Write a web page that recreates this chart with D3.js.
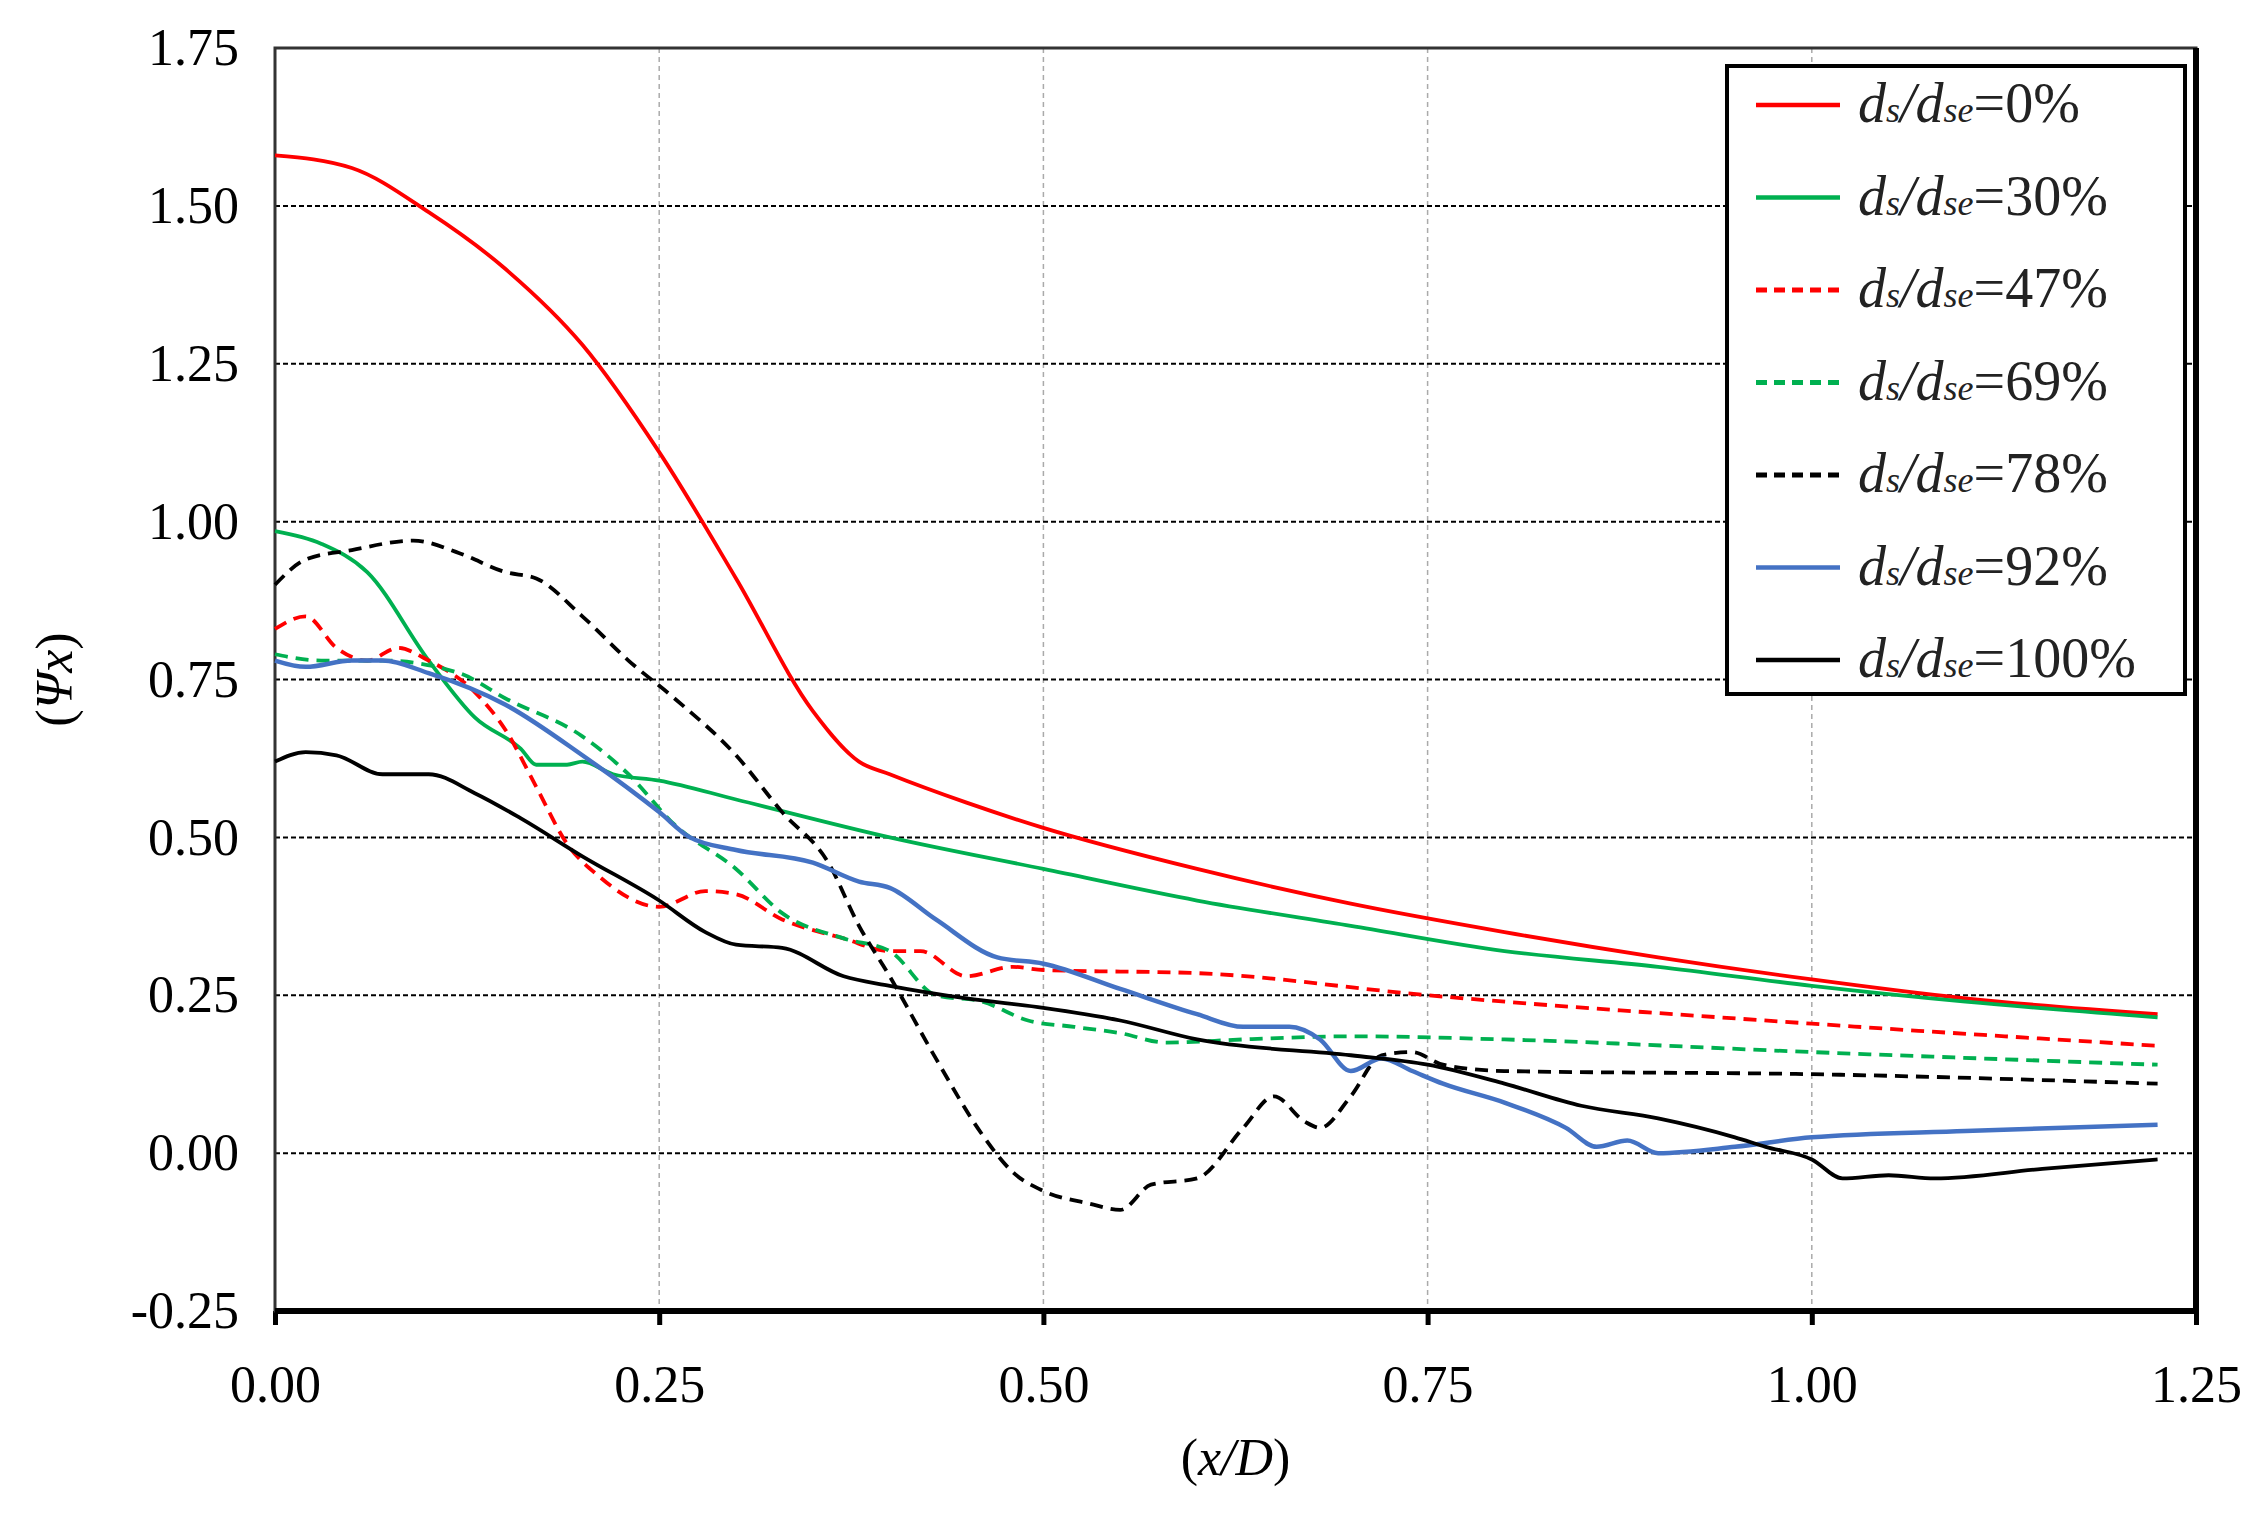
<!DOCTYPE html>
<html><head><meta charset="utf-8">
<script src="https://cdn.jsdelivr.net/npm/d3@7"></script>
<style>body{margin:0;background:#fff}</style></head>
<body><svg id="c" width="2265" height="1519"></svg>
<script>
const xTicks=[0,0.25,0.5,0.75,1.0,1.25];
const yTicks=[-0.25,0,0.25,0.5,0.75,1.0,1.25,1.5,1.75];
const labels=["0%","30%","47%","69%","78%","92%","100%"];
const colors=["#ff0000","#00b050","#ff0000","#00b050","#000000","#4472c4","#000000"];
const dashed=[false,false,true,true,true,false,false];
const s0=[[0,1.58],[0.05,1.56],[0.1,1.49],[0.15,1.40],[0.2,1.28],[0.25,1.11],[0.3,0.91],[0.35,0.70],[0.38,0.62],[0.4,0.60],[0.45,0.555],[0.5,0.515],[0.6,0.45],[0.7,0.395],[0.8,0.35],[0.9,0.31],[1.0,0.275],[1.1,0.245],[1.225,0.22]];
const s30=[[0,0.985],[0.03,0.965],[0.06,0.92],[0.1,0.78],[0.13,0.69],[0.16,0.64],[0.17,0.615],[0.19,0.615],[0.2,0.62],[0.22,0.60],[0.25,0.59],[0.3,0.56],[0.4,0.50],[0.5,0.45],[0.6,0.40],[0.7,0.36],[0.8,0.32],[0.9,0.295],[1.0,0.265],[1.1,0.24],[1.225,0.215]];
const s47=[[0,0.83],[0.02,0.85],[0.04,0.80],[0.06,0.78],[0.08,0.80],[0.1,0.78],[0.13,0.73],[0.15,0.67],[0.17,0.58],[0.19,0.49],[0.21,0.44],[0.25,0.39],[0.28,0.415],[0.30,0.41],[0.33,0.37],[0.37,0.34],[0.40,0.32],[0.42,0.32],[0.45,0.28],[0.48,0.295],[0.5,0.29],[0.6,0.285],[0.75,0.25],[1.0,0.205],[1.225,0.17]];
const s69=[[0,0.79],[0.03,0.78],[0.07,0.78],[0.12,0.76],[0.15,0.72],[0.2,0.66],[0.23,0.60],[0.26,0.52],[0.3,0.45],[0.33,0.38],[0.37,0.34],[0.40,0.32],[0.43,0.25],[0.46,0.24],[0.49,0.21],[0.52,0.20],[0.55,0.19],[0.58,0.175],[0.63,0.18],[0.7,0.185],[0.8,0.18],[1.0,0.16],[1.225,0.14]];
const s78=[[0,0.90],[0.02,0.94],[0.05,0.955],[0.09,0.97],[0.12,0.95],[0.15,0.92],[0.17,0.91],[0.2,0.85],[0.23,0.78],[0.26,0.72],[0.3,0.63],[0.33,0.54],[0.36,0.46],[0.38,0.36],[0.40,0.28],[0.43,0.15],[0.46,0.03],[0.48,-0.03],[0.5,-0.06],[0.53,-0.08],[0.55,-0.09],[0.57,-0.05],[0.6,-0.04],[0.63,0.04],[0.65,0.09],[0.67,0.05],[0.68,0.04],[0.7,0.09],[0.72,0.155],[0.74,0.16],[0.76,0.14],[0.8,0.13],[1.0,0.125],[1.225,0.11]];
const s92=[[0,0.78],[0.02,0.77],[0.05,0.78],[0.07,0.78],[0.1,0.76],[0.15,0.71],[0.2,0.63],[0.25,0.54],[0.27,0.50],[0.3,0.48],[0.35,0.46],[0.38,0.43],[0.4,0.42],[0.43,0.37],[0.47,0.31],[0.5,0.30],[0.55,0.26],[0.6,0.22],[0.63,0.20],[0.66,0.20],[0.68,0.18],[0.7,0.13],[0.72,0.15],[0.74,0.13],[0.76,0.11],[0.8,0.08],[0.84,0.04],[0.86,0.01],[0.88,0.02],[0.9,0.00],[0.95,0.01],[1.0,0.025],[1.1,0.035],[1.225,0.045]];
const s100=[[0,0.62],[0.02,0.635],[0.04,0.63],[0.07,0.60],[0.08,0.60],[0.1,0.60],[0.13,0.57],[0.16,0.53],[0.2,0.47],[0.25,0.40],[0.28,0.35],[0.3,0.33],[0.33,0.325],[0.37,0.28],[0.4,0.265],[0.45,0.245],[0.5,0.23],[0.55,0.21],[0.6,0.18],[0.7,0.155],[0.75,0.14],[0.8,0.11],[0.85,0.075],[0.9,0.055],[0.95,0.025],[0.97,0.01],[1.0,-0.01],[1.02,-0.04],[1.05,-0.035],[1.08,-0.04],[1.15,-0.025],[1.225,-0.01]];
const series=[s0,s30,s47,s69,s78,s92,s100];

const L=275,R=2196,T=48,B=1311;
const svg=d3.select("#c");
const x=d3.scaleLinear().domain([0,1.25]).range([L,R]);
const y=d3.scaleLinear().domain([-0.25,1.75]).range([B,T]);
const font="'Liberation Serif','Times New Roman',serif";
const fmt=d=>d.toFixed(2);
svg.append("g").selectAll("line").data(xTicks.slice(1,-1)).join("line")
 .attr("x1",d=>x(d)).attr("x2",d=>x(d)).attr("y1",T).attr("y2",B)
 .attr("stroke","#aaa").attr("stroke-width",1.5).attr("stroke-dasharray","5,4");
svg.append("g").selectAll("line").data(yTicks.slice(1,-1)).join("line")
 .attr("x1",L).attr("x2",R).attr("y1",d=>y(d)).attr("y2",d=>y(d))
 .attr("stroke","#000").attr("stroke-width",2).attr("stroke-dasharray","5,3");
const xa=svg.append("g").attr("transform",`translate(0,${B})`)
 .call(d3.axisBottom(x).tickValues(xTicks).tickFormat(fmt).tickSize(14).tickPadding(40));
const ya=svg.append("g").attr("transform",`translate(${L},0)`)
 .call(d3.axisLeft(y).tickValues(yTicks).tickFormat(fmt).tickSize(0).tickPadding(36));
[xa,ya].forEach(a=>{a.selectAll("text").attr("font-family",font).attr("font-size",52).attr("fill","#000");
 a.select(".domain").remove(); a.selectAll(".tick line").attr("stroke","#000").attr("stroke-width",5);});
svg.append("rect").attr("x",L).attr("y",T).attr("width",R-L).attr("height",B-T)
 .attr("fill","none").attr("stroke","#333").attr("stroke-width",3);
svg.append("line").attr("x1",L).attr("x2",R+3).attr("y1",B).attr("y2",B).attr("stroke","#000").attr("stroke-width",6);
svg.append("line").attr("x1",R).attr("x2",R).attr("y1",T).attr("y2",B).attr("stroke","#000").attr("stroke-width",6);
const line=d3.line().x(d=>x(d[0])).y(d=>y(d[1])).curve(d3.curveMonotoneX);
series.forEach((s,i)=>{
 svg.append("path").datum(s).attr("d",line).attr("fill","none")
  .attr("stroke",colors[i]).attr("stroke-width",i===5?4.5:3.8)
  .attr("stroke-dasharray",dashed[i]?"13,8":null);
});
const lg=svg.append("g");
lg.append("rect").attr("x",1727).attr("y",66).attr("width",458).attr("height",628)
 .attr("fill","#fff").attr("stroke","#000").attr("stroke-width",4);
labels.forEach((l,i)=>{
 const yy=105+i*92.5;
 lg.append("line").attr("x1",1756).attr("x2",1840).attr("y1",yy).attr("y2",yy)
  .attr("stroke",colors[i]).attr("stroke-width",dashed[i]?5:4.5).attr("stroke-dasharray",dashed[i]?"11,7":null);
 const t=lg.append("text").attr("x",1858).attr("y",yy+17).attr("font-family",font).attr("font-size",56).attr("fill","#222");
 t.append("tspan").attr("font-style","italic").text("d");
 t.append("tspan").attr("font-style","italic").attr("font-size",36).text("s");
 t.append("tspan").attr("font-style","italic").text("/d");
 t.append("tspan").attr("font-style","italic").attr("font-size",36).text("se");
 t.append("tspan").text("="+l);
});
const xt=svg.append("text").attr("x",(L+R)/2).attr("y",1475).attr("text-anchor","middle")
 .attr("font-family",font).attr("font-size",52);
xt.append("tspan").text("(");xt.append("tspan").attr("font-style","italic").text("x/D");xt.append("tspan").text(")");
const yt=svg.append("text").attr("transform",`translate(72,${y(0.75)}) rotate(-90)`).attr("text-anchor","middle")
 .attr("font-family",font).attr("font-size",52);
yt.append("tspan").text("(");yt.append("tspan").attr("font-style","italic").text("Ψx");yt.append("tspan").text(")");
</script></body></html>
